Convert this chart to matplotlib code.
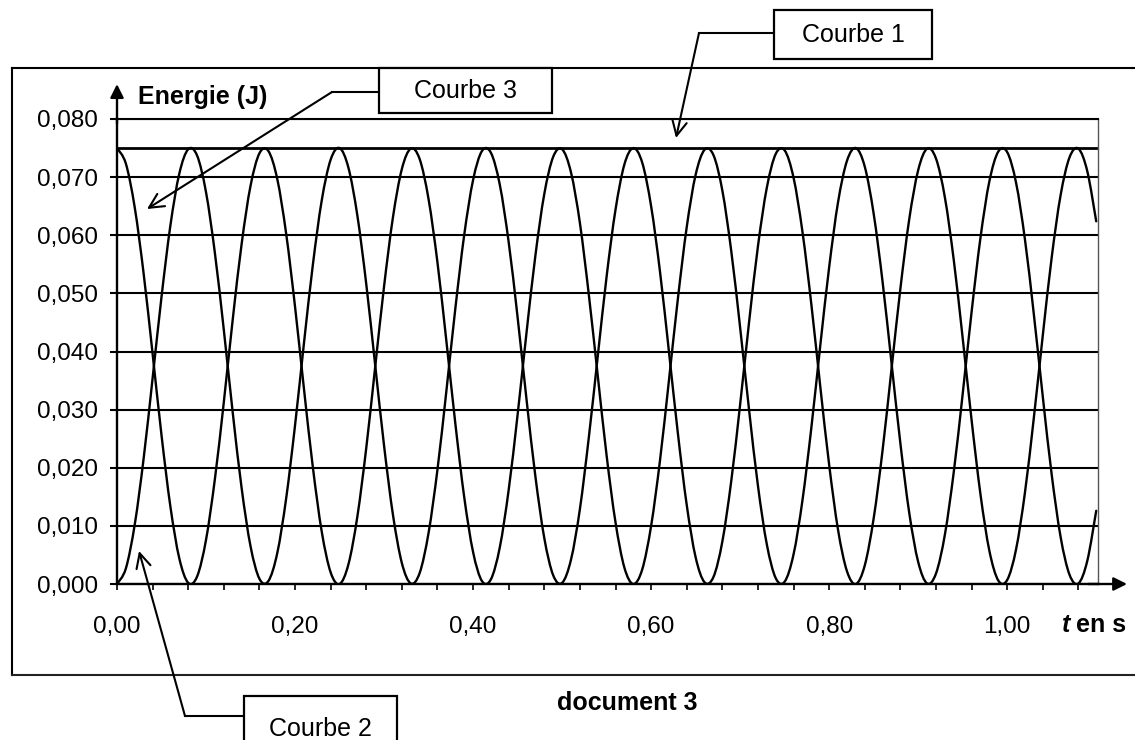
import numpy as np
import matplotlib
matplotlib.use("Agg")
import matplotlib.pyplot as plt
from matplotlib.ticker import FixedLocator, MultipleLocator
from matplotlib.path import Path
from matplotlib.patches import PathPatch

plt.rcParams['font.family'] = ['Liberation Sans', 'DejaVu Sans']

# ---------------- data ----------------
t = np.round(np.arange(0, 111) * 0.01, 2)  # time in s, 0.00 ... 1.10

# Courbe 1: total energy (constant)
courbe1_value = 0.075

# Courbe 3: starts at maximum
courbe3 = [
    0.0750, 0.0723, 0.0647, 0.0533, 0.0396, 0.0256, 0.0133, 0.0044, 0.0002, 0.0013,
    0.0076, 0.0181, 0.0313, 0.0455, 0.0585, 0.0685, 0.0741, 0.0745, 0.0697, 0.0603,
    0.0477, 0.0336, 0.0201, 0.0090, 0.0020, 0.0000, 0.0034, 0.0116, 0.0234, 0.0373,
    0.0512, 0.0631, 0.0714, 0.0749, 0.0731, 0.0662, 0.0553, 0.0418, 0.0277, 0.0150,
    0.0055, 0.0005, 0.0008, 0.0063, 0.0162, 0.0291, 0.0432, 0.0565, 0.0671, 0.0735,
    0.0748, 0.0708, 0.0621, 0.0498, 0.0359, 0.0221, 0.0106, 0.0028, 0.0000, 0.0025,
    0.0100, 0.0213, 0.0350, 0.0490, 0.0614, 0.0704, 0.0747, 0.0738, 0.0677, 0.0573,
    0.0441, 0.0300, 0.0169, 0.0068, 0.0010, 0.0004, 0.0051, 0.0144, 0.0269, 0.0410,
    0.0545, 0.0657, 0.0728, 0.0750, 0.0718, 0.0637, 0.0520, 0.0381, 0.0242, 0.0122,
    0.0038, 0.0001, 0.0018, 0.0085, 0.0193, 0.0327, 0.0468, 0.0596, 0.0693, 0.0744,
    0.0743, 0.0690, 0.0592, 0.0463, 0.0322, 0.0188, 0.0081, 0.0016, 0.0001, 0.0040,
    0.0126,
]

# Courbe 2: starts at zero
courbe2 = [
    0.0000, 0.0027, 0.0103, 0.0217, 0.0354, 0.0494, 0.0617, 0.0706, 0.0748, 0.0737,
    0.0674, 0.0569, 0.0437, 0.0295, 0.0165, 0.0065, 0.0009, 0.0005, 0.0053, 0.0147,
    0.0273, 0.0414, 0.0549, 0.0660, 0.0730, 0.0750, 0.0716, 0.0634, 0.0516, 0.0377,
    0.0238, 0.0119, 0.0036, 0.0001, 0.0019, 0.0088, 0.0197, 0.0332, 0.0473, 0.0600,
    0.0695, 0.0745, 0.0742, 0.0687, 0.0588, 0.0459, 0.0318, 0.0185, 0.0079, 0.0015,
    0.0002, 0.0042, 0.0129, 0.0252, 0.0391, 0.0529, 0.0644, 0.0722, 0.0750, 0.0725,
    0.0650, 0.0537, 0.0400, 0.0260, 0.0136, 0.0046, 0.0003, 0.0012, 0.0073, 0.0177,
    0.0309, 0.0450, 0.0581, 0.0682, 0.0740, 0.0746, 0.0699, 0.0606, 0.0481, 0.0340,
    0.0205, 0.0093, 0.0022, 0.0000, 0.0032, 0.0113, 0.0230, 0.0369, 0.0508, 0.0628,
    0.0712, 0.0749, 0.0732, 0.0665, 0.0557, 0.0423, 0.0282, 0.0154, 0.0057, 0.0006,
    0.0007, 0.0060, 0.0158, 0.0287, 0.0428, 0.0562, 0.0669, 0.0734, 0.0749, 0.0710,
    0.0624,
]

y_ticks = [0.000, 0.010, 0.020, 0.030, 0.040, 0.050, 0.060, 0.070, 0.080]
y_tick_labels = ['0,000', '0,010', '0,020', '0,030', '0,040', '0,050', '0,060', '0,070', '0,080']
x_ticks = [0.00, 0.20, 0.40, 0.60, 0.80, 1.00]
x_tick_labels = ['0,00', '0,20', '0,40', '0,60', '0,80', '1,00']
x_minor_step = 0.04

y_label = 'Energie (J)'
x_label_t = 't'
x_label_rest = 'en s'
caption = 'document 3'
callouts = ['Courbe 1', 'Courbe 2', 'Courbe 3']

# ---------------- figure ----------------
W, H = 1135, 740
fig = plt.figure(figsize=(W / 100, H / 100), dpi=100)
fig.patch.set_facecolor('white')

# plot area in pixels: x 117..1098, y 119..584
ax = fig.add_axes([117 / W, (H - 584) / H, (1098 - 117) / W, (584 - 119) / H])
ax.set_xlim(0, 1.102)
ax.set_ylim(0, 0.080)


def smoothed_line(axis, xs, ys, **kw):
    """Excel-like 'smoothed line': Bezier path through the data points."""
    xs = np.asarray(xs, float)
    ys = np.asarray(ys, float)
    n = len(xs)
    verts = [(xs[0], ys[0])]
    codes = [Path.MOVETO]
    for i in range(n - 1):
        i0 = max(i - 1, 0)
        i3 = min(i + 2, n - 1)
        c1 = (xs[i] + (xs[i + 1] - xs[i0]) / 6, ys[i] + (ys[i + 1] - ys[i0]) / 6)
        c2 = (xs[i + 1] - (xs[i3] - xs[i]) / 6, ys[i + 1] - (ys[i3] - ys[i]) / 6)
        verts += [c1, c2, (xs[i + 1], ys[i + 1])]
        codes += [Path.CURVE4, Path.CURVE4, Path.CURVE4]
    patch = PathPatch(Path(verts, codes), fill=False, transform=axis.transData, **kw)
    axis.add_patch(patch)
    return patch


smoothed_line(ax, t, courbe3, edgecolor='black', lw=1.7, zorder=3, capstyle='round',
              joinstyle='round')
smoothed_line(ax, t, courbe2, edgecolor='black', lw=1.7, zorder=3, capstyle='round',
              joinstyle='round')
ax.plot(t, [courbe1_value] * len(t), color='black', lw=2.0, zorder=3)

ax.yaxis.set_major_locator(FixedLocator(y_ticks))
ax.set_yticklabels(y_tick_labels)
ax.xaxis.set_major_locator(FixedLocator(x_ticks))
ax.set_xticklabels(x_tick_labels)
ax.xaxis.set_minor_locator(MultipleLocator(x_minor_step))

ax.yaxis.grid(True, color='black', lw=1.5)
ax.set_axisbelow(True)

ax.tick_params(axis='y', which='major', direction='out', length=5, width=1.5,
               pad=8.5, labelsize=17.5, colors='black')
ax.tick_params(axis='x', which='both', direction='out', length=4.3, width=1.2,
               pad=19, labelsize=17.5, colors='black')

for side in ['left', 'bottom']:
    ax.spines[side].set_linewidth(1.7)
    ax.spines[side].set_color('black')
ax.spines['top'].set_linewidth(1.5)
ax.spines['right'].set_linewidth(1.0)
ax.spines['right'].set_color('#555555')

# axis arrows
ax.annotate('', xy=(1.0296, 0), xycoords='axes fraction', xytext=(0.99, 0),
            arrowprops=dict(arrowstyle='-|>', color='black', lw=1.7,
                            mutation_scale=20, shrinkA=0, shrinkB=0), annotation_clip=False)
ax.annotate('', xy=(0, 1.075), xycoords='axes fraction', xytext=(0, 0.99),
            arrowprops=dict(arrowstyle='-|>', color='black', lw=1.7,
                            mutation_scale=20, shrinkA=0, shrinkB=0), annotation_clip=False)

# ---------------- overlay in pixel coordinates ----------------
ov = fig.add_axes([0, 0, 1, 1], zorder=10)
ov.set_xlim(0, W)
ov.set_ylim(H, 0)
ov.axis('off')
ov.patch.set_visible(False)

# outer frame (left, top, bottom; right edge is out of the picture)
ov.plot([12, W], [68, 68], color='black', lw=1.5)
ov.plot([12, 12], [68, 675], color='black', lw=1.5)
ov.plot([12, W], [675, 675], color='#222222', lw=1.5)

# axis titles
ov.text(138, 97, y_label, fontsize=18, fontweight='bold', ha='left', va='center')
ov.text(1062, 625, x_label_t, fontsize=18, fontweight='bold', fontstyle='italic',
        ha='left', va='center')
ov.text(1076, 625, x_label_rest, fontsize=18, fontweight='bold', ha='left', va='center')
ov.text(627, 703, caption, fontsize=18, fontweight='bold', ha='center', va='center')


def callout(text, box, leader_y, corner_x, tip):
    x0, y0, x1, y1 = box
    ov.add_patch(plt.Rectangle((x0, y0), x1 - x0, y1 - y0, facecolor='white',
                               edgecolor='black', lw=1.6, zorder=5))
    ov.text((x0 + x1) / 2, (y0 + y1) / 2 + 1, text, fontsize=18, ha='center',
            va='center', zorder=6)
    ov.plot([x0, corner_x], [leader_y, leader_y], color='black', lw=1.5, zorder=4)
    ov.annotate('', xy=tip, xytext=(corner_x, leader_y),
                arrowprops=dict(arrowstyle='->', color='black', lw=1.5,
                                mutation_scale=26, shrinkA=0, shrinkB=0), zorder=4)


callout(callouts[0], (774, 10, 932, 59), 33, 699, (676, 138))
callout(callouts[2], (379, 68, 552, 113), 92, 332, (147, 209))
callout(callouts[1], (244, 696, 397, 760), 716, 185, (139, 551))

fig.savefig('out.png', dpi=100, facecolor='white')
